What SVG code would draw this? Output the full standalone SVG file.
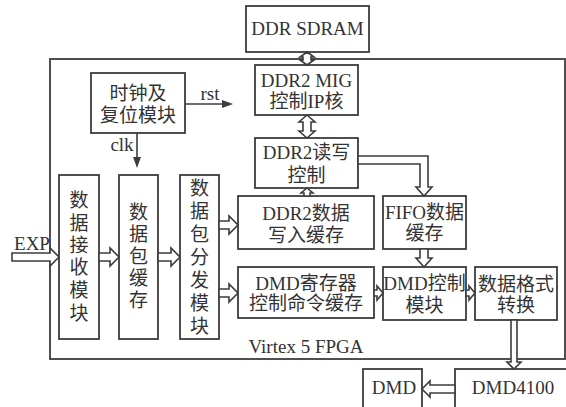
<svg xmlns="http://www.w3.org/2000/svg" width="566" height="407" viewBox="0 0 566 407">
<style>
.box{fill:#fff;stroke:#3c3c3c;stroke-width:1.8}
.frame{fill:none;stroke:#3c3c3c;stroke-width:1.8}
.arr{fill:#fff;stroke:#3c3c3c;stroke-width:1.6;stroke-linejoin:miter}
.ln{fill:none;stroke:#3c3c3c;stroke-width:1.6}
.hd{fill:#3c3c3c;stroke:none}
.t{font-family:"Liberation Serif","Noto Sans CJK SC",serif;font-size:19px;fill:#333;text-anchor:middle}
</style>
<rect width="566" height="407" fill="#fff"/>
<g id="fpga">
<rect class="frame" x="50" y="59" width="515" height="300"/>
<text class="t" x="306" y="353">Virtex 5 FPGA</text>
</g>
<g id="sdram">
<rect class="box" x="246" y="6" width="123" height="46"/>
<text class="t" x="307.5" y="35">DDR SDRAM</text>
</g>
<g id="mig">
<rect class="box" x="255" y="65" width="103" height="50"/>
<text class="t" x="306.5" y="87">DDR2 MIG</text>
<text class="t" x="306.5" y="108">控制IP核</text>
</g>
<g id="rw">
<rect class="box" x="255" y="138" width="103" height="50"/>
<text class="t" x="306.5" y="159">DDR2读写</text>
<text class="t" x="306.5" y="182">控制</text>
</g>
<g id="clkrst">
<rect class="box" x="91" y="73" width="94" height="60"/>
<text class="t" x="138" y="100">时钟及</text>
<text class="t" x="138" y="122">复位模块</text>
</g>
<g id="recv">
<rect class="box" x="59" y="175" width="40" height="164"/>
<text class="t" x="79"><tspan x="79" y="207">数</tspan><tspan x="79" y="230">据</tspan><tspan x="79" y="252">接</tspan><tspan x="79" y="274">收</tspan><tspan x="79" y="297">模</tspan><tspan x="79" y="320">块</tspan></text>
</g>
<g id="pktbuf">
<rect class="box" x="119" y="175" width="39" height="164"/>
<text class="t" x="138.5"><tspan x="138.5" y="219">数</tspan><tspan x="138.5" y="241">据</tspan><tspan x="138.5" y="263">包</tspan><tspan x="138.5" y="285">缓</tspan><tspan x="138.5" y="307">存</tspan></text>
</g>
<g id="dist">
<rect class="box" x="180" y="175" width="39" height="164"/>
<text class="t" x="199.5"><tspan x="199.5" y="195">数</tspan><tspan x="199.5" y="218">据</tspan><tspan x="199.5" y="241">包</tspan><tspan x="199.5" y="264">分</tspan><tspan x="199.5" y="287">发</tspan><tspan x="199.5" y="310">模</tspan><tspan x="199.5" y="333">块</tspan></text>
</g>
<g id="wbuf">
<rect class="box" x="238" y="196" width="136" height="53"/>
<text class="t" x="306" y="220">DDR2数据</text>
<text class="t" x="306" y="242">写入缓存</text>
</g>
<g id="cmdbuf">
<rect class="box" x="238" y="267" width="136" height="51"/>
<text class="t" x="306" y="290">DMD寄存器</text>
<text class="t" x="306" y="310">控制命令缓存</text>
</g>
<g id="fifo">
<rect class="box" x="383" y="196" width="83" height="53"/>
<text class="t" x="424.5" y="219">FIFO数据</text>
<text class="t" x="424.5" y="240">缓存</text>
</g>
<g id="dmdctl">
<rect class="box" x="383" y="267" width="83" height="53"/>
<text class="t" x="424.5" y="290">DMD控制</text>
<text class="t" x="424.5" y="312">模块</text>
</g>
<g id="fmt">
<rect class="box" x="475" y="267" width="82" height="53"/>
<text class="t" x="516" y="291">数据格式</text>
<text class="t" x="516" y="312">转换</text>
</g>
<g id="dmd4100">
<rect class="box" x="455" y="369" width="130" height="60"/>
<text class="t" x="513" y="394">DMD4100</text>
</g>
<g id="dmd">
<rect class="box" x="363" y="369" width="59" height="60"/>
<text class="t" x="394" y="394">DMD</text>
</g>
<g id="connectors">
<!-- EXP -->
<polygon class="arr" points="12,253 50,253 50,248 59,257 50,266 50,261 12,261"/>
<text class="t" x="32" y="250">EXP</text>
<polygon class="arr" points="99,253 110,253 110,248 119,257 110,266 110,261 99,261"/>
<polygon class="arr" points="158,253 171,253 171,248 180,257 171,266 171,261 158,261"/>
<polygon class="arr" points="219,221 229,221 229,216 238,225 229,234 229,229 219,229"/>
<polygon class="arr" points="219,289 229,289 229,284 238,293 229,302 229,297 219,297"/>
<polygon class="arr" points="374,290 377,290 377,286 383,293 377,300 377,296 374,296"/>
<polygon class="arr" points="466,290 469,290 469,286 475,293 469,300 469,296 466,296"/>
<!-- FIFO -> DMD ctl -->
<polygon class="arr" points="420,249 428,249 428,258 432,258 424,267 416,258 420,258"/>
<!-- rw -> FIFO elbow -->
<polygon class="arr" points="358,156 428,156 428,187 432,187 424,196 416,187 420,187 420,164 358,164"/>
<!-- SDRAM <-> MIG -->
<polygon class="arr" points="307,52 314,57 311,57 311,60 314,60 307,65 300,60 303,60 303,57 300,57"/>
<!-- MIG <-> rw -->
<polygon class="arr" points="307,115 315,122 311,122 311,131 315,131 307,138 299,131 303,131 303,122 299,122"/>
<!-- wbuf -> rw -->
<polygon class="arr" points="307,188 313,193 310,193 310,196 304,196 304,193 301,193"/>
<!-- fmt -> DMD4100 -->
<polygon class="arr" points="511,320 517,320 517,362 521,362 514,369 507,362 511,362"/>
<!-- DMD4100 -> DMD -->
<polygon class="arr" points="455,385 430,385 430,381 422,389 430,397 430,393 455,393"/>
<!-- rst -->
<line class="ln" x1="185" y1="104" x2="224" y2="104"/>
<polygon class="hd" points="233,104 222,100 222,108"/>
<text class="t" x="210" y="100">rst</text>
<!-- clk -->
<line class="ln" x1="137" y1="133" x2="137" y2="159"/>
<polygon class="hd" points="137,168 133,157 141,157"/>
<text class="t" x="122" y="151">clk</text>
</g>
</svg>
